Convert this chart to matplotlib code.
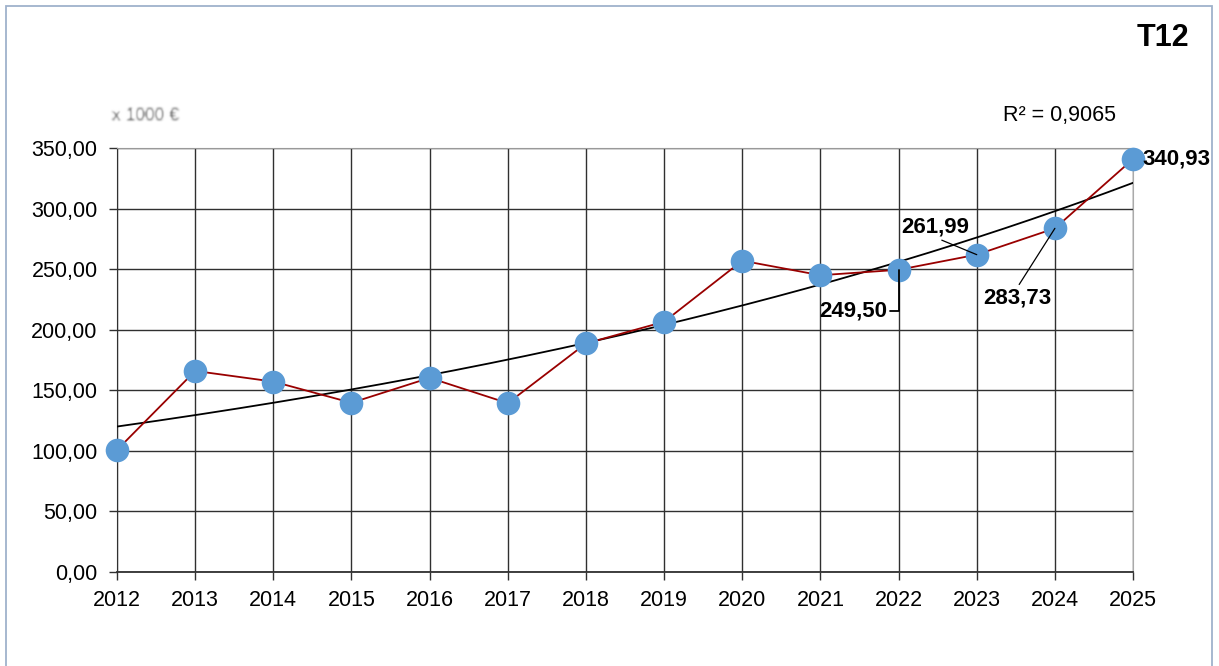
import numpy as np
import matplotlib.pyplot as plt
from matplotlib.patches import Rectangle

plt.rcParams['font.family'] = ['Liberation Sans', 'DejaVu Sans']

# Jahreswerte (x 1000 €)
jaren = [2012, 2013, 2014, 2015, 2016, 2017, 2018, 2019, 2020, 2021, 2022, 2023, 2024, 2025]
waarden = [100.8, 166.0, 157.2, 139.7, 160.3, 139.4, 188.7, 206.6, 257.0, 245.0, 249.50, 261.99, 283.73, 340.93]

# labels met de waarde: (jaar, verschuiving in punten, horizontale uitlijning, aanhechtpunt lijn)
labels = [
    (2022, (-33, -30), 'center', (1, 0.5)),
    (2023, (-30, 20), 'center', (0.5, 0)),
    (2024, (-27, -50), 'center', (0.5, 1)),
    (2025, (7, 0), 'left', None),
]
r2_tekst = 'R² = 0,9065'
titel = 'T12'
eenheid = 'x 1000 €'


def vervaag(img, dpi, sigma=1.1):
    """Gaussische vervaging voor de eenheid-tekst"""
    pad = int(4 * sigma) + 1
    r = np.arange(-pad, pad + 1)
    kern = np.exp(-r ** 2 / (2 * sigma ** 2))
    kern /= kern.sum()
    a = np.pad(img, ((pad, pad), (pad, pad), (0, 0)))
    a = np.apply_along_axis(lambda v: np.convolve(v, kern, mode='same'), 0, a)
    a = np.apply_along_axis(lambda v: np.convolve(v, kern, mode='same'), 1, a)
    return a, -pad, -pad


fig = plt.figure(figsize=(12.19, 6.66), dpi=100)
ax = fig.add_axes([0.096, 0.1411, 0.8335, 0.6366])

# trendlijn (exponentieel, zoals in de spreadsheet)
x = np.array(jaren, dtype=float)
y = np.array(waarden)
b, ln_a = np.polyfit(x - x[0], np.log(y), 1)
xt = np.linspace(x[0], x[-1], 200)
ax.plot(xt, np.exp(ln_a + b * (xt - x[0])), color='black', lw=1.3, zorder=3)

ax.plot(jaren, waarden, color='#990000', lw=1.3, zorder=4, clip_on=False)
ax.plot(jaren, waarden, 'o', color='#5B9BD5', markersize=17, markeredgewidth=0,
        zorder=5, clip_on=False)

for jaar, offset, ha, rel in labels:
    w = waarden[jaren.index(jaar)]
    tekst = f'{w:.2f}'.replace('.', ',')
    props = None
    if rel is not None:
        props = dict(arrowstyle='-', color='black', lw=0.9, shrinkA=0, shrinkB=0, relpos=rel)
        if jaar == 2022:
            props['connectionstyle'] = 'angle,angleA=0,angleB=90,rad=0'
            props['lw'] = 1.3
    ax.annotate(tekst, xy=(jaar, w), xytext=offset, textcoords='offset points',
                ha=ha, va='center', fontsize=16, fontweight='bold',
                arrowprops=props, zorder=6, annotation_clip=False)

ax.set_xlim(2012, 2025)
ax.set_ylim(0, 350)
ax.set_xticks(jaren)
ax.set_yticks(np.arange(0, 351, 50))
ax.set_yticklabels([f'{v:.2f}'.replace('.', ',') for v in np.arange(0, 351, 50)])
ax.grid(True, color='#303030', lw=1.0)
ax.set_axisbelow(True)
ax.tick_params(axis='both', labelsize=15.5, length=6, width=1, color='#303030')
ax.tick_params(axis='y', pad=8)
ax.tick_params(axis='x', pad=7)
ax.spines['left'].set_color('#303030')
ax.spines['bottom'].set_color('#303030')
ax.spines['bottom'].set_linewidth(1.3)
ax.spines['top'].set_color('#999999')
ax.spines['right'].set_color('#aaaaaa')

fig.text(0.823, 0.827, r2_tekst, fontsize=15.5, va='center', ha='left')
fig.text(0.976, 0.943, titel, fontsize=22, fontweight='bold', va='center', ha='right')
t = fig.text(0.092, 0.827, eenheid, fontsize=12.5, color='#505050', va='center', ha='left')
t.set_agg_filter(vervaag)

# kader rond de grafiek
fig.add_artist(Rectangle((6 / 1219, -0.05), 1206 / 1219, 1.05 - 6 / 666,
                         transform=fig.transFigure, fill=False,
                         edgecolor='#9FB2CC', lw=1.3))

fig.savefig('out.png', dpi=100)
